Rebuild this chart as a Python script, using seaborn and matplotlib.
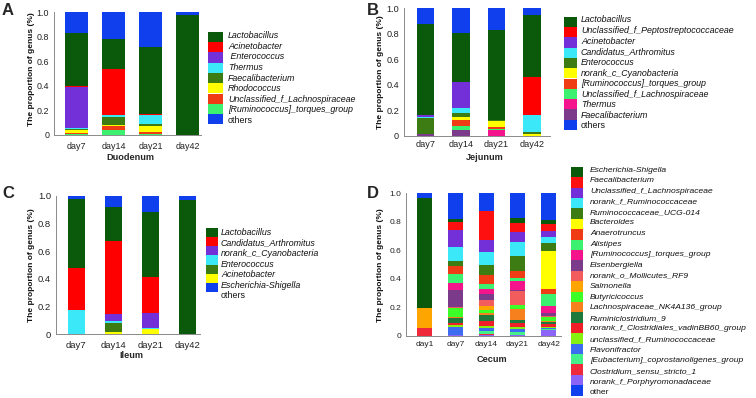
import numpy as np
import pandas as pd
import matplotlib
matplotlib.use("Agg")
import matplotlib.pyplot as plt
from matplotlib.patches import Rectangle
import seaborn as sns

# ---------------- data ----------------
duo_days = ["day7", "day14", "day21", "day42"]
duo_genera = ["Lactobacillus", "Acinetobacter", " Enterococcus", "Thermus", "Faecalibacterium",
              "Rhodococcus", "Unclassified_f_Lachnospiraceae", "[Ruminococcus]_torques_group", "others"]
duo_values = [
    [0.430, 0.250, 0.540, 0.975],
    [0.010, 0.370, 0.010, 0.000],
    [0.335, 0.000, 0.003, 0.000],
    [0.010, 0.015, 0.070, 0.000],
    [0.005, 0.065, 0.015, 0.000],
    [0.020, 0.012, 0.050, 0.000],
    [0.015, 0.033, 0.022, 0.000],
    [0.005, 0.040, 0.005, 0.000],
    [0.170, 0.215, 0.285, 0.025],
]
duo_colors = ["#0b5a0b", "#ff0000", "#7330d8", "#3ae8f8", "#3c7c12", "#ffff00", "#f03c14", "#3cf070", "#1040ee"]

jej_days = ["day7", "day14", "day21", "day42"]
jej_genera = ["Lactobacillus", "Unclassified_f_Peptostreptococcaceae", "Acinetobacter", "Candidatus_Arthromitus",
              "Enterococcus", "norank_c_Cyanobacteria", "[Ruminococcus]_torques_group",
              "Unclassified_f_Lachnospiraceae", "Thermus", "Faecalibacterium", "others"]
jej_values = [
    [0.720, 0.390, 0.710, 0.485],
    [0.000, 0.000, 0.000, 0.300],
    [0.015, 0.200, 0.000, 0.000],
    [0.005, 0.040, 0.000, 0.130],
    [0.125, 0.035, 0.005, 0.020],
    [0.000, 0.020, 0.050, 0.010],
    [0.000, 0.045, 0.015, 0.000],
    [0.000, 0.035, 0.005, 0.000],
    [0.000, 0.000, 0.045, 0.000],
    [0.015, 0.045, 0.000, 0.000],
    [0.120, 0.190, 0.170, 0.055],
]
jej_colors = ["#0b5a0b", "#ff0000", "#7330d8", "#3ae8f8", "#3c7c12", "#ffff00", "#f03c14", "#3cf070",
              "#f5148c", "#7b3a8a", "#1040ee"]

ile_days = ["day7", "day14", "day21", "day42"]
ile_genera = ["Lactobacillus", "Candidatus_Arthromitus", "norank_c_Cyanobacteria", "Enterococcus",
              "Acinetobacter", "Escherichia-Shigella", "others"]
ile_values = [
    [0.498, 0.240, 0.475, 0.970],
    [0.302, 0.530, 0.255, 0.000],
    [0.000, 0.050, 0.115, 0.000],
    [0.173, 0.018, 0.003, 0.000],
    [0.000, 0.060, 0.003, 0.000],
    [0.000, 0.017, 0.034, 0.000],
    [0.027, 0.085, 0.115, 0.030],
]
ile_colors = ["#0b5a0b", "#ff0000", "#7330d8", "#3ae8f8", "#3c7c12", "#ffff00", "#1040ee"]

cec_days = ["day1", "day7", "day14", "day21", "day42"]
cec_genera = ["Escherichia-Shigella", "Faecalibacterium", "Unclassified_f_Lachnospiraceae",
              "norank_f_Ruminococcaceae", "Ruminococcaceae_UCG-014", "Bacteroides", "Anaerotruncus",
              "Alistipes", "[Ruminococcus]_torques_group", "Eisenbergiella", "norank_o_Mollicutes_RF9",
              "Salmonella", "Butyricicoccus", "Lachnospiraceae_NK4A136_group", "Ruminiclostridium_9",
              "norank_f_Clostridiales_vadinBB60_group", "unclassified_f_Ruminococcaceae", "Flavonifractor",
              "[Eubacterium]_coprostanoligenes_group", "Clostridium_sensu_stricto_1",
              "norank_f_Porphyromonadaceae", "other"]
cec_values = [
    [0.776, 0.022, 0.002, 0.039, 0.022],
    [0.000, 0.054, 0.203, 0.063, 0.050],
    [0.000, 0.120, 0.086, 0.070, 0.045],
    [0.000, 0.100, 0.089, 0.096, 0.040],
    [0.000, 0.030, 0.071, 0.105, 0.060],
    [0.000, 0.000, 0.000, 0.000, 0.263],
    [0.000, 0.060, 0.065, 0.052, 0.035],
    [0.000, 0.060, 0.033, 0.019, 0.085],
    [0.000, 0.055, 0.038, 0.063, 0.050],
    [0.000, 0.115, 0.039, 0.010, 0.020],
    [0.000, 0.005, 0.039, 0.095, 0.004],
    [0.136, 0.005, 0.030, 0.000, 0.005],
    [0.000, 0.060, 0.023, 0.030, 0.025],
    [0.000, 0.010, 0.015, 0.077, 0.005],
    [0.000, 0.030, 0.040, 0.018, 0.015],
    [0.000, 0.017, 0.033, 0.030, 0.020],
    [0.000, 0.017, 0.019, 0.012, 0.010],
    [0.000, 0.050, 0.020, 0.020, 0.008],
    [0.000, 0.005, 0.020, 0.020, 0.008],
    [0.058, 0.000, 0.008, 0.005, 0.000],
    [0.000, 0.005, 0.005, 0.005, 0.040],
    [0.030, 0.180, 0.122, 0.171, 0.190],
]
cec_colors = ["#0b5a0b", "#ff1010", "#7330d8", "#3ae8f8", "#3c7c12", "#ffff00", "#f03c14", "#3cf070",
              "#f5148c", "#7b3a8a", "#f25c5c", "#ffa500", "#3cff28", "#f7801e", "#1e7a3c", "#f01e28",
              "#86f010", "#3c6cf0", "#44f08a", "#f0283c", "#8c64f8", "#1040ee"]

y_ticks = [0, 0.2, 0.4, 0.6, 0.8, 1.0]
y_ticklabels = ["0", "0.2", "0.4", "0.6", "0.8", "1.0"]

# ---------------- figure ----------------
sns.set_theme(style="white")
plt.rcParams["font.family"] = ["Liberation Sans", "DejaVu Sans"]

W, H = 756, 398
fig = plt.figure(figsize=(W / 100, H / 100), dpi=100)

ov = fig.add_axes([0, 0, 1, 1])
ov.set_xlim(0, W)
ov.set_ylim(H, 0)
ov.axis("off")


def px_axes(left, top, right, bottom):
    return fig.add_axes([left / W, 1 - bottom / H, (right - left) / W, (bottom - top) / H])


def stacked(ax, days, values, colors, width, xlim, tsize, xpad):
    n = len(values)
    # bottom-to-top order: legend items reversed (except "others"), then "others" on top
    order = list(range(n - 2, -1, -1)) + [n - 1]
    arr = np.array(values, dtype=float)
    cum = np.cumsum(arr[order], axis=0)
    # draw from the top layer downwards so smaller cumulative bars cover the lower parts
    for k in range(n - 1, -1, -1):
        gi = order[k]
        df = pd.DataFrame({"day": days, "cum": cum[k]})
        sns.barplot(data=df, x="day", y="cum", order=days, color=colors[gi], width=width,
                    saturation=1, errorbar=None, linewidth=0, edgecolor="none", ax=ax)
    ax.set_xlim(*xlim)
    ax.set_ylim(0, 1)
    ax.set_yticks(y_ticks)
    ax.set_yticklabels(y_ticklabels)
    ax.set_xlabel("")
    ax.set_ylabel("")
    for s in ["top", "right"]:
        ax.spines[s].set_visible(False)
    for s in ["left", "bottom"]:
        ax.spines[s].set_color("#8a8a8a")
        ax.spines[s].set_linewidth(0.7)
    ax.tick_params(axis="y", length=2, width=0.6, color="#8a8a8a", pad=1.5, labelsize=tsize,
                   labelcolor="#222222")
    ax.tick_params(axis="x", length=0, pad=xpad, labelsize=tsize, labelcolor="#222222")
    ax.set_facecolor("none")


def legend(labels, colors, sq_x0, sq_x1, sq_top, sq_step, tx, ty0, tstep, fsize):
    for i, (lab, col) in enumerate(zip(labels, colors)):
        ov.add_patch(Rectangle((sq_x0, sq_top + i * sq_step), sq_x1 - sq_x0, sq_step,
                               facecolor=col, edgecolor="none"))
        style = "normal" if lab.startswith("other") else "italic"
        ov.text(tx, ty0 + i * tstep, lab, fontsize=fsize, style=style, va="center", ha="left",
                color="#111111")


def vlabel(x, y, s):
    ov.text(x, y, s, rotation=90, fontsize=6, fontweight="bold", ha="center", va="center", color="#111111")


# Panel A - Duodenum
axA = px_axes(54, 12.3, 200.6, 135)
stacked(axA, duo_days, duo_values, duo_colors, 0.62, (-0.6, 3.35), 6.4, 5.0)
legend(duo_genera, duo_colors, 208, 223, 31.7, 10.3, 228, 35.7, 10.6, 6.4)
vlabel(31.5, 69, "The proportion of genus (%)")
ov.text(130, 157, "Duodenum", fontsize=6.6, fontweight="bold", ha="center", va="center")
ov.text(2, 3, "A", fontsize=12, fontweight="bold", ha="left", va="top")

# Panel B - Jejunum
axB = px_axes(404, 8.3, 550, 135.7)
stacked(axB, jej_days, jej_values, jej_colors, 0.49, (-0.6, 3.5), 6.6, 2.8)
legend(jej_genera, jej_colors, 564, 577, 16.7, 10.3, 581, 20, 10.6, 6.4)
vlabel(381, 72, "The proportion of genus (%)")
ov.text(485, 158, "Jejunum", fontsize=6.6, fontweight="bold", ha="center", va="center")
ov.text(367, 3, "B", fontsize=12, fontweight="bold", ha="left", va="top")

# Panel C - Ileum
axC = px_axes(56, 195.7, 200, 334)
stacked(axC, ile_days, ile_values, ile_colors, 0.47, (-0.55, 3.34), 6.8, 4.9)
legend(ile_genera, ile_colors, 206, 218, 228.3, 9.05, 221, 232.7, 10.55, 6.4)
vlabel(31.5, 265, "The proportion of genus (%)")
ov.text(131.7, 355, "Ileum", fontsize=6.6, fontweight="bold", ha="center", va="center")
ov.text(2, 186, "C", fontsize=12, fontweight="bold", ha="left", va="top")

# Panel D - Cecum
axD = px_axes(406, 193.3, 561, 336)
stacked(axD, cec_days, cec_values, cec_colors, 0.49, (-0.6, 4.4), 6.0, 3.5)
legend(cec_genera, cec_colors, 571, 583, 166.7, 10.4, 590, 170, 10.6, 6.1)
vlabel(381, 265, "The proportion of genus (%)")
ov.text(491.7, 359.5, "Cecum", fontsize=6.6, fontweight="bold", ha="center", va="center")
ov.text(367, 186, "D", fontsize=12, fontweight="bold", ha="left", va="top")

fig.savefig("out.png", dpi=100)
